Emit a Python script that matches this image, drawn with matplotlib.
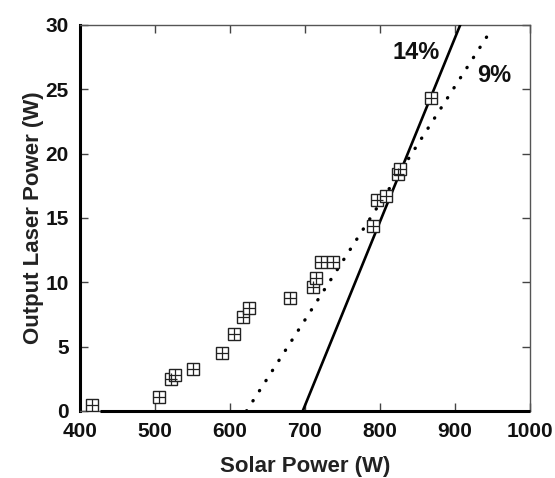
import numpy as np
import matplotlib.pyplot as plt

# measured points (solar power W, laser output W)
solar_w = [416, 506, 521, 527, 551, 589, 605, 618, 626, 680, 711, 715, 722, 737,
           791, 796, 808, 824, 827, 868]
laser_w = [0.5, 1.05, 2.5, 2.8, 3.3, 4.5, 6.0, 7.3, 8.0, 8.8, 9.6, 10.3, 11.6, 11.6,
           14.4, 16.4, 16.7, 18.4, 18.8, 24.3]

# efficiency fit lines
fit14_x = [697, 907]
fit14_y = [0, 30]
fit9_x = [622, 947]
fit9_y = [0, 29.5]
zero_x = [427, 1000]
zero_y = [0, 0]

plt.rcParams.update({
    "font.family": ["Liberation Sans", "DejaVu Sans"],
    "font.weight": "bold",
})

fig = plt.figure(figsize=(5.55, 4.78), dpi=100)
ax = fig.add_axes([0.1441, 0.1402, 0.8108, 0.8075])

ax.plot(zero_x, zero_y, color="black", lw=2.2, solid_capstyle="butt", zorder=3,
        clip_on=False)
ax.plot(fit14_x, fit14_y, color="black", lw=1.9, zorder=3)
ax.plot(fit9_x, fit9_y, color="black", lw=2.4, ls=(0, (0.1, 3.5)),
        dash_capstyle="round", zorder=3)

ax.plot(solar_w, laser_w, ls="none", marker="s", ms=8.5, mfc="white",
        mec="#222222", mew=1.0, zorder=4)
ax.plot(solar_w, laser_w, ls="none", marker="+", ms=8.5, mec="#222222",
        mew=0.9, zorder=5)

ax.text(848, 27.9, "14%", fontsize=17, fontweight="bold", ha="center",
        va="center", color="#111111")
ax.text(952, 26.1, "9%", fontsize=17, fontweight="bold", ha="center",
        va="center", color="#111111")

ax.set_xlim(400, 1000)
ax.set_ylim(0, 30)
ax.set_xticks(np.arange(400, 1001, 100))
ax.set_yticks(np.arange(0, 31, 5))
ax.tick_params(direction="in", top=True, right=True, length=5.5, width=1,
               labelsize=15, color="#444444", labelcolor="#111111", pad=8)
for lab in ax.get_xticklabels() + ax.get_yticklabels():
    lab.set_fontweight("bold")

ax.spines["left"].set_linewidth(2.2)
ax.spines["left"].set_color("black")
for s in ["top", "right", "bottom"]:
    ax.spines[s].set_linewidth(1.0)
    ax.spines[s].set_color("#555555")

ax.set_xlabel("Solar Power (W)", fontsize=16, fontweight="bold",
              color="#222222", labelpad=11)
ax.set_ylabel("Output Laser Power (W)", fontsize=16, fontweight="bold",
              color="#222222", labelpad=1)

fig.savefig("out.png", dpi=100)
plt.close(fig)
